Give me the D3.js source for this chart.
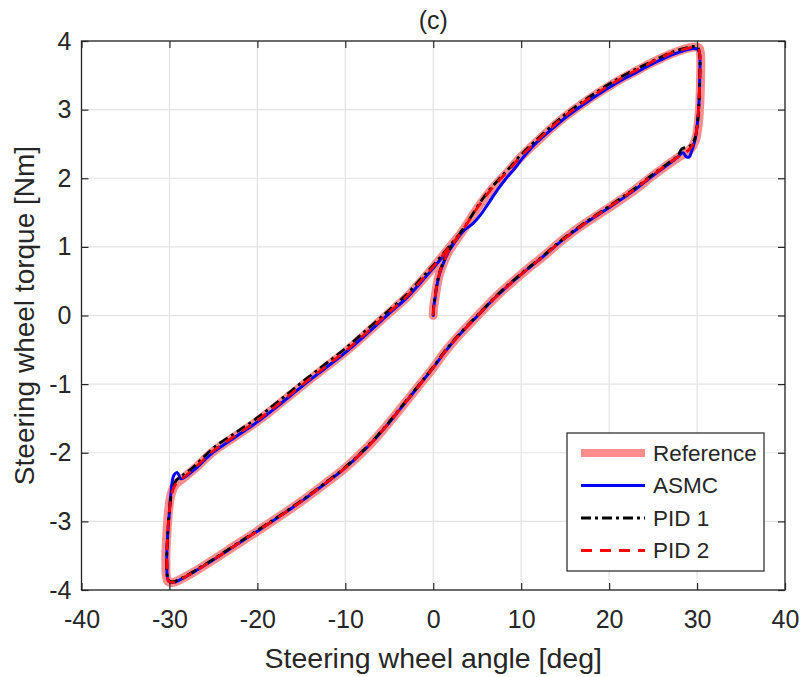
<!DOCTYPE html>
<html>
<head>
<meta charset="utf-8">
<script src="https://cdn.jsdelivr.net/npm/d3@7"></script>
<style>
  html, body { margin: 0; padding: 0; background: #ffffff; }
  svg { display: block; }
  text { font-family: "Liberation Sans", Arial, Helvetica, sans-serif; fill: #262626; }
</style>
</head>
<body>
<svg id="chart" width="804" height="677"></svg>
<script>
// ---------------- data ----------------
const xTicks = [-40, -30, -20, -10, 0, 10, 20, 30, 40];
const yTicks = [-4, -3, -2, -1, 0, 1, 2, 3, 4];
const seriesNames = ["Reference", "ASMC", "PID 1", "PID 2"];
const titleText = "(c)";
const xLabel = "Steering wheel angle [deg]";
const yLabel = "Steering wheel torque [Nm]";

// [angle deg, torque Nm]
const referenceData = [[0,0],[0.05,0.12],[0.2,0.25],[0.4,0.42],[0.7,0.6],[1.2,0.78],[1.7,0.92],[2.3,1.04],[3.0,1.17],[3.7,1.3],[4.5,1.46],[5.4,1.63],[6.4,1.8],[7.5,1.96],[8.6,2.11],[9.9,2.3],[11.5,2.5],[13.7,2.76],[15,2.9],[16.7,3.06],[18.5,3.22],[20.1,3.35],[21.7,3.47],[23.2,3.57],[24.5,3.66],[25.8,3.74],[27.2,3.82],[28.5,3.88],[29.5,3.91],[30.2,3.9],[30.4,3.8],[30.4,3.45],[30.3,3.06],[30.1,2.75],[29.8,2.55],[29.3,2.43],[28.6,2.36],[27.8,2.3],[26.5,2.18],[25,2.04],[22.8,1.82],[20.1,1.58],[17,1.32],[14.8,1.11],[12.5,0.86],[10,0.6],[7.2,0.28],[5,-0.01],[2.7,-0.32],[1.2,-0.55],[0,-0.76],[-1.8,-1.05],[-3.75,-1.36],[-5.6,-1.65],[-7.5,-1.92],[-10,-2.22],[-12.5,-2.47],[-14.8,-2.69],[-17.5,-2.93],[-20.1,-3.15],[-22.5,-3.35],[-25,-3.56],[-27,-3.72],[-28.5,-3.83],[-29.6,-3.89],[-30.2,-3.87],[-30.4,-3.6],[-30.3,-3.2],[-30.1,-2.85],[-29.8,-2.6],[-29.3,-2.46],[-28.5,-2.38],[-27.2,-2.24],[-25,-1.98],[-22.5,-1.76],[-20,-1.54],[-17.5,-1.29],[-15,-1.03],[-12.5,-0.78],[-10,-0.53],[-7.5,-0.25],[-5,0.04],[-3,0.27],[-1.5,0.48],[0,0.7],[1.9,1.0],[3.0,1.17]];

const asmcData = [[0,0],[0.05,0.12],[0.2,0.25],[0.4,0.42],[0.7,0.6],[1.2,0.78],[1.7,0.92],[2.3,1.04],[2.9,1.15],[3.5,1.24],[4.5,1.34],[5.4,1.47],[6.2,1.62],[7.3,1.83],[8.3,2.0],[9.3,2.15],[10.2,2.3],[11.5,2.49],[13.7,2.74],[15,2.88],[16.7,3.04],[18.5,3.2],[20.1,3.33],[21.7,3.45],[23.2,3.55],[24.5,3.64],[25.8,3.72],[27.2,3.8],[28.5,3.86],[29.5,3.89],[30.1,3.88],[30.3,3.8],[30.3,3.45],[30.2,3.06],[30.0,2.75],[29.8,2.58],[29.4,2.4],[29.1,2.31],[28.8,2.31],[28.4,2.37],[27.8,2.31],[26.5,2.18],[25,2.04],[22.8,1.82],[20.1,1.58],[17,1.32],[14.8,1.11],[12.5,0.86],[10,0.6],[7.2,0.28],[5,-0.01],[2.7,-0.32],[1.2,-0.55],[0,-0.76],[-1.8,-1.05],[-3.75,-1.36],[-5.6,-1.65],[-7.5,-1.92],[-10,-2.22],[-12.5,-2.47],[-14.8,-2.69],[-17.5,-2.93],[-20.1,-3.15],[-22.5,-3.35],[-25,-3.56],[-27,-3.72],[-28.5,-3.83],[-29.6,-3.89],[-30.1,-3.87],[-30.3,-3.6],[-30.2,-3.2],[-30.0,-2.85],[-29.8,-2.55],[-29.5,-2.33],[-29.1,-2.29],[-28.7,-2.38],[-28.2,-2.35],[-27.2,-2.25],[-25,-1.99],[-22.5,-1.77],[-20,-1.55],[-17.5,-1.3],[-15,-1.04],[-12.5,-0.79],[-10,-0.54],[-7.5,-0.26],[-5,0.03],[-3,0.26],[-1.5,0.47],[0,0.69],[1.9,0.99],[2.9,1.15]];

const pid1Data = [[0,0],[0.05,0.13],[0.2,0.27],[0.4,0.44],[0.7,0.62],[1.2,0.8],[1.7,0.94],[2.3,1.06],[3.0,1.19],[3.7,1.32],[4.5,1.48],[5.4,1.66],[6.4,1.83],[7.5,1.99],[8.6,2.14],[9.9,2.33],[11.5,2.53],[13.7,2.79],[15,2.93],[16.7,3.09],[18.5,3.25],[20.1,3.38],[21.7,3.5],[23.2,3.6],[24.5,3.68],[25.8,3.76],[27.2,3.84],[28.5,3.89],[29.5,3.92],[30.1,3.9],[30.3,3.8],[30.3,3.45],[30.2,3.06],[30.0,2.75],[29.7,2.56],[29.1,2.46],[28.3,2.43],[27.8,2.33],[26.5,2.2],[25,2.06],[22.8,1.84],[20.1,1.6],[17,1.33],[14.8,1.12],[12.5,0.87],[10,0.61],[7.2,0.29],[5,0.0],[2.7,-0.31],[1.2,-0.54],[0,-0.75],[-1.8,-1.04],[-3.75,-1.35],[-5.6,-1.64],[-7.5,-1.91],[-10,-2.21],[-12.5,-2.46],[-14.8,-2.68],[-17.5,-2.92],[-20.1,-3.14],[-22.5,-3.34],[-25,-3.55],[-27,-3.71],[-28.5,-3.82],[-29.6,-3.88],[-30.1,-3.86],[-30.3,-3.6],[-30.2,-3.2],[-30.0,-2.85],[-29.7,-2.55],[-29.2,-2.4],[-28.5,-2.33],[-27.2,-2.2],[-25,-1.93],[-22.5,-1.71],[-20,-1.49],[-17.5,-1.24],[-15,-0.98],[-12.5,-0.73],[-10,-0.48],[-7.5,-0.2],[-5,0.08],[-3,0.31],[-1.5,0.52],[0,0.73],[1.9,1.02],[3.0,1.19]];

const pid2Data = [[0,0],[0.05,0.12],[0.2,0.26],[0.4,0.43],[0.7,0.61],[1.2,0.79],[1.7,0.93],[2.3,1.05],[3.0,1.18],[3.7,1.31],[4.5,1.47],[5.4,1.64],[6.4,1.81],[7.5,1.97],[8.6,2.12],[9.9,2.31],[11.5,2.51],[13.7,2.77],[15,2.91],[16.7,3.07],[18.5,3.23],[20.1,3.36],[21.7,3.48],[23.2,3.58],[24.5,3.67],[25.8,3.75],[27.2,3.83],[28.5,3.88],[29.5,3.91],[30.1,3.9],[30.3,3.8],[30.3,3.45],[30.2,3.06],[30.0,2.75],[29.7,2.55],[29.2,2.43],[28.6,2.37],[27.8,2.31],[26.5,2.19],[25,2.05],[22.8,1.83],[20.1,1.59],[17,1.32],[14.8,1.11],[12.5,0.86],[10,0.6],[7.2,0.28],[5,-0.01],[2.7,-0.32],[1.2,-0.55],[0,-0.76],[-1.8,-1.05],[-3.75,-1.36],[-5.6,-1.65],[-7.5,-1.92],[-10,-2.22],[-12.5,-2.47],[-14.8,-2.69],[-17.5,-2.93],[-20.1,-3.15],[-22.5,-3.35],[-25,-3.56],[-27,-3.72],[-28.5,-3.83],[-29.6,-3.89],[-30.1,-3.87],[-30.3,-3.6],[-30.2,-3.2],[-30.0,-2.85],[-29.7,-2.58],[-29.2,-2.44],[-28.5,-2.37],[-27.2,-2.23],[-25,-1.97],[-22.5,-1.75],[-20,-1.53],[-17.5,-1.28],[-15,-1.02],[-12.5,-0.77],[-10,-0.52],[-7.5,-0.24],[-5,0.05],[-3,0.28],[-1.5,0.49],[0,0.71],[1.9,1.01],[3.0,1.18]];

// ---------------- layout ----------------
const svg = d3.select("#chart");
const plot = { left: 81.5, right: 785, top: 41, bottom: 590 };

const x = d3.scaleLinear().domain([-40, 40]).range([plot.left, plot.right]);
const y = d3.scaleLinear().domain([-4, 4]).range([plot.bottom, plot.top]);

const styles = [
  { name: seriesNames[0], data: referenceData, color: "#ff8c8c", width: 9, dash: null, cap: "round" },
  { name: seriesNames[1], data: asmcData, color: "#0000ff", width: 3, dash: null, cap: "round" },
  { name: seriesNames[2], data: pid1Data, color: "#000000", width: 2.8, dash: "10,4,3,4", cap: "butt" },
  { name: seriesNames[3], data: pid2Data, color: "#ff0000", width: 2.8, dash: "11,8", cap: "butt" }
];

// background
svg.append("rect").attr("x", plot.left).attr("y", plot.top)
  .attr("width", plot.right - plot.left).attr("height", plot.bottom - plot.top)
  .attr("fill", "#ffffff");

// grid
const grid = svg.append("g").attr("stroke", "#e3e3e3").attr("stroke-width", 1.2);
grid.selectAll("line.gx").data(xTicks).join("line").attr("class", "gx")
  .attr("x1", d => x(d)).attr("x2", d => x(d)).attr("y1", plot.top).attr("y2", plot.bottom);
grid.selectAll("line.gy").data(yTicks).join("line").attr("class", "gy")
  .attr("y1", d => y(d)).attr("y2", d => y(d)).attr("x1", plot.left).attr("x2", plot.right);

// curves
const line = d3.line().x(d => x(d[0])).y(d => y(d[1])).curve(d3.curveCatmullRom.alpha(0.5));
const curves = svg.append("g");
styles.forEach(s => {
  curves.append("path").datum(s.data)
    .attr("d", line)
    .attr("fill", "none")
    .attr("stroke", s.color)
    .attr("stroke-width", s.width)
    .attr("stroke-linejoin", "round")
    .attr("stroke-linecap", s.cap)
    .attr("stroke-dasharray", s.dash);
});

// axes
const axisColor = "#262626";
const tickFont = 25;
const gB = svg.append("g").attr("transform", `translate(0,${plot.bottom})`)
  .call(d3.axisBottom(x).tickValues(xTicks).tickFormat(d3.format("d")).tickSizeInner(-7).tickSizeOuter(0).tickPadding(20));
const gL = svg.append("g").attr("transform", `translate(${plot.left},0)`)
  .call(d3.axisLeft(y).tickValues(yTicks).tickFormat(d3.format("d")).tickSizeInner(-7).tickSizeOuter(0).tickPadding(10));
const gT = svg.append("g").attr("transform", `translate(0,${plot.top})`)
  .call(d3.axisTop(x).tickValues(xTicks).tickFormat("").tickSizeInner(-7).tickSizeOuter(0));
const gR = svg.append("g").attr("transform", `translate(${plot.right},0)`)
  .call(d3.axisRight(y).tickValues(yTicks).tickFormat("").tickSizeInner(-7).tickSizeOuter(0));
[gB, gL, gT, gR].forEach(g => {
  g.select(".domain").remove();
  g.selectAll(".tick line").attr("stroke", axisColor).attr("stroke-width", 1.2);
  g.selectAll(".tick text").attr("fill", axisColor).attr("font-size", tickFont)
    .attr("font-family", "'Liberation Sans', Arial, sans-serif");
});
gB.selectAll(".tick text").text(d => d < 0 ? "-" + Math.abs(d) : String(d));
gL.selectAll(".tick text").text(d => d < 0 ? "-" + Math.abs(d) : String(d));

// box
svg.append("rect").attr("x", plot.left).attr("y", plot.top)
  .attr("width", plot.right - plot.left).attr("height", plot.bottom - plot.top)
  .attr("fill", "none").attr("stroke", axisColor).attr("stroke-width", 1.3);

// title and labels
svg.append("text").attr("x", (plot.left + plot.right) / 2).attr("y", 29)
  .attr("text-anchor", "middle").attr("font-size", 25).text(titleText);
svg.append("text").attr("x", (plot.left + plot.right) / 2).attr("y", 668)
  .attr("text-anchor", "middle").attr("font-size", 28.5).text(xLabel);
svg.append("text").attr("transform", `translate(34,${(plot.top + plot.bottom) / 2}) rotate(-90)`)
  .attr("text-anchor", "middle").attr("font-size", 28).text(yLabel);

// legend
const leg = svg.append("g");
leg.append("rect").attr("x", 567).attr("y", 433).attr("width", 197).attr("height", 138)
  .attr("fill", "#ffffff").attr("stroke", "#333333").attr("stroke-width", 1.3);
styles.forEach((s, i) => {
  const ly = 453 + i * 32.5;
  leg.append("line").attr("x1", 581).attr("x2", 645).attr("y1", ly).attr("y2", ly)
    .attr("stroke", s.color).attr("stroke-width", i === 0 ? 8 : 2.8)
    .attr("stroke-dasharray", s.dash);
  leg.append("text").attr("x", 653).attr("y", ly).attr("dy", "0.35em")
    .attr("font-size", 22.5).text(s.name);
});
</script>
</body>
</html>
